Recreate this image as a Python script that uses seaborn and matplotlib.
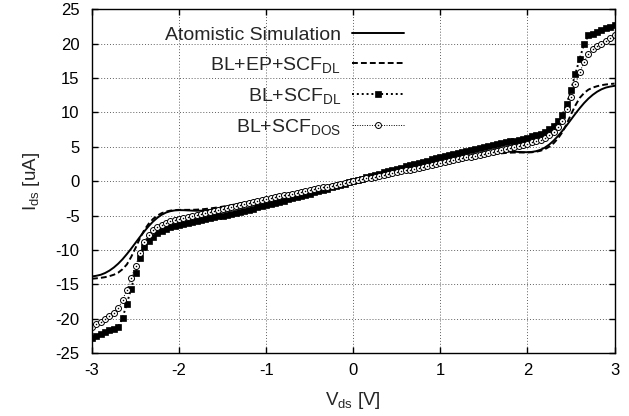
import numpy as np
import pandas as pd
import matplotlib
matplotlib.use('Agg')
import matplotlib.pyplot as plt
from matplotlib.lines import Line2D
from matplotlib.legend_handler import HandlerTuple
import seaborn as sns

# drain voltage grid, 0.05 V steps from -3 V to 3 V
v_ds = np.round(np.linspace(-3, 3, 121), 2)

# Atomistic Simulation (solid)
i_atomistic = [
    -13.85, -13.75, -13.60, -13.35, -13.00, -12.55, -12.00, -11.35, -10.60, -9.80,
    -8.95, -8.10, -7.30, -6.55, -5.88, -5.32, -4.88, -4.56, -4.36, -4.25,
    -4.21, -4.22, -4.25, -4.28, -4.30, -4.29, -4.25, -4.18, -4.09, -3.98,
    -3.86, -3.74, -3.61, -3.48, -3.35, -3.22, -3.09, -2.96, -2.83, -2.70,
    -2.57, -2.44, -2.31, -2.18, -2.05, -1.92, -1.79, -1.66, -1.53, -1.40,
    -1.28, -1.15, -1.02, -0.89, -0.77, -0.64, -0.51, -0.38, -0.26, -0.13,
    0.00,
    0.13, 0.26, 0.38, 0.51, 0.64, 0.77, 0.89, 1.02, 1.15, 1.28,
    1.40, 1.53, 1.66, 1.79, 1.92, 2.05, 2.18, 2.31, 2.44, 2.57,
    2.70, 2.83, 2.96, 3.09, 3.22, 3.35, 3.48, 3.61, 3.74, 3.86,
    3.98, 4.09, 4.18, 4.25, 4.29, 4.30, 4.28, 4.25, 4.22, 4.21,
    4.25, 4.36, 4.56, 4.88, 5.32, 5.88, 6.55, 7.30, 8.10, 8.95,
    9.80, 10.60, 11.35, 12.00, 12.55, 13.00, 13.35, 13.60, 13.75, 13.85,
]

# BL+EP+SCF_DL (dashed)
i_ep_dl = [
    -14.18, -14.12, -14.05, -13.95, -13.80, -13.60, -13.30, -12.80, -12.10, -11.00,
    -9.70, -8.30, -7.10, -6.20, -5.50, -5.00, -4.65, -4.42, -4.28, -4.20,
    -4.17, -4.17, -4.17, -4.16, -4.14, -4.10, -4.04, -3.97, -3.89, -3.80,
    -3.70, -3.59, -3.48, -3.36, -3.24, -3.12, -3.00, -2.875, -2.75, -2.625,
    -2.50, -2.375, -2.25, -2.125, -2.00, -1.875, -1.75, -1.625, -1.50, -1.375,
    -1.25, -1.125, -1.00, -0.875, -0.75, -0.625, -0.50, -0.375, -0.25, -0.125,
    0.00,
    0.125, 0.25, 0.375, 0.50, 0.625, 0.75, 0.875, 1.00, 1.125, 1.25,
    1.375, 1.50, 1.625, 1.75, 1.875, 2.00, 2.125, 2.25, 2.375, 2.50,
    2.625, 2.75, 2.875, 3.00, 3.12, 3.24, 3.36, 3.48, 3.59, 3.70,
    3.80, 3.89, 3.97, 4.04, 4.10, 4.14, 4.16, 4.17, 4.17, 4.17,
    4.20, 4.28, 4.42, 4.65, 5.00, 5.50, 6.20, 7.10, 8.30, 9.70,
    11.00, 12.10, 12.80, 13.30, 13.60, 13.80, 13.95, 14.05, 14.12, 14.18,
]

# BL+SCF_DL (filled squares)
i_scf_dl = [
    -22.75, -22.45, -22.20, -21.95, -21.70, -21.45, -21.20, -19.90, -17.80, -15.60,
    -13.30, -11.20, -9.60, -8.70, -8.05, -7.55, -7.18, -6.92, -6.70, -6.50,
    -6.33, -6.18, -6.04, -5.90, -5.77, -5.64, -5.51, -5.38, -5.25, -5.12,
    -4.99, -4.85, -4.71, -4.57, -4.43, -4.28, -4.13, -3.98, -3.82, -3.66,
    -3.50, -3.33, -3.16, -2.99, -2.82, -2.65, -2.48, -2.31, -2.14, -1.97,
    -1.80, -1.62, -1.44, -1.26, -1.08, -0.90, -0.72, -0.54, -0.36, -0.18,
    0.00,
    0.18, 0.36, 0.54, 0.72, 0.90, 1.08, 1.26, 1.44, 1.62, 1.80,
    1.97, 2.14, 2.31, 2.48, 2.65, 2.82, 2.99, 3.16, 3.33, 3.50,
    3.66, 3.82, 3.98, 4.13, 4.28, 4.43, 4.57, 4.71, 4.85, 4.99,
    5.12, 5.25, 5.38, 5.51, 5.64, 5.77, 5.90, 6.04, 6.18, 6.33,
    6.50, 6.70, 6.92, 7.18, 7.55, 8.05, 8.70, 9.60, 11.20, 13.30,
    15.60, 17.80, 19.90, 21.20, 21.45, 21.70, 21.95, 22.20, 22.45, 22.75,
]

# BL+SCF_DOS (open circles)
i_scf_dos = [
    -21.20, -20.80, -20.40, -20.00, -19.60, -19.20, -18.50, -17.30, -15.80, -14.10,
    -12.30, -10.50, -8.80, -7.80, -7.10, -6.65, -6.30, -6.03, -5.82, -5.63,
    -5.46, -5.30, -5.15, -5.00, -4.85, -4.70, -4.56, -4.42, -4.28, -4.14,
    -4.00, -3.86, -3.72, -3.58, -3.44, -3.30, -3.16, -3.02, -2.88, -2.74,
    -2.60, -2.47, -2.34, -2.21, -2.08, -1.95, -1.82, -1.69, -1.56, -1.43,
    -1.30, -1.17, -1.04, -0.91, -0.78, -0.65, -0.52, -0.39, -0.26, -0.13,
    0.00,
    0.13, 0.26, 0.39, 0.52, 0.65, 0.78, 0.91, 1.04, 1.17, 1.30,
    1.43, 1.56, 1.69, 1.82, 1.95, 2.08, 2.21, 2.34, 2.47, 2.60,
    2.74, 2.88, 3.02, 3.16, 3.30, 3.44, 3.58, 3.72, 3.86, 4.00,
    4.14, 4.28, 4.42, 4.56, 4.70, 4.85, 5.00, 5.15, 5.30, 5.46,
    5.63, 5.82, 6.03, 6.30, 6.65, 7.10, 7.80, 8.80, 10.50, 12.30,
    14.10, 15.80, 17.30, 18.50, 19.20, 19.60, 20.00, 20.40, 20.80, 21.20,
]

df = pd.DataFrame({'vds': v_ds, 'atom': i_atomistic, 'ep_dl': i_ep_dl,
                   'scf_dl': i_scf_dl, 'scf_dos': i_scf_dos})

sns.set_style('ticks')
plt.rcParams['font.family'] = ['Liberation Sans', 'DejaVu Sans']
plt.rcParams['mathtext.fontset'] = 'custom'
plt.rcParams['mathtext.rm'] = 'Liberation Sans'
plt.rcParams['mathtext.it'] = 'Liberation Sans:italic'
plt.rcParams['axes.unicode_minus'] = False

fig, ax = plt.subplots(figsize=(6.29, 4.16), dpi=100)
fig.subplots_adjust(left=0.1463, right=0.977, bottom=0.151, top=0.978)

sns.lineplot(data=df, x='vds', y='atom', ax=ax, color='black', lw=1.4,
             label='Atomistic Simulation')
sns.lineplot(data=df, x='vds', y='ep_dl', ax=ax, color='black', lw=1.4,
             linestyle=(0, (3, 1.6)), label=r'BL+EP+SCF$_{\rm DL}$')
sns.lineplot(data=df, x='vds', y='scf_dl', ax=ax, color='black', lw=1.4,
             linestyle=(0, (1, 1.5)), marker='s', markersize=5,
             markeredgecolor='black', markerfacecolor='black', markeredgewidth=0.5,
             label=r'BL+SCF$_{\rm DL}$')
sns.lineplot(data=df, x='vds', y='scf_dos', ax=ax, color='black', lw=0.7,
             linestyle=(0, (1, 1.5)), marker='o', markersize=4.3,
             markeredgecolor='black', markerfacecolor='white', markeredgewidth=0.7,
             label=r'BL+SCF$_{\rm DOS}$')
# centre dots of the open circles
sns.lineplot(data=df, x='vds', y='scf_dos', ax=ax, color='black',
             linestyle='none', marker='o', markersize=1.1,
             markeredgecolor='black', markeredgewidth=0, legend=False)

ax.set_xlim(-3, 3)
ax.set_ylim(-25, 25)
ax.set_xticks(np.arange(-3, 4, 1))
ax.set_yticks(np.arange(-25, 30, 5))
ax.grid(True, linestyle=(0, (1, 2)), color='#606060', linewidth=0.7)
ax.tick_params(direction='in', top=True, right=True, length=4, width=1,
               labelsize=12, colors='black')
ax.tick_params(axis='x', pad=7)
ax.tick_params(axis='y', pad=9)
for s in ax.spines.values():
    s.set_color('black')
    s.set_linewidth(1.0)

ax.set_xlabel(r'V$_{\rm ds}$ [V]', fontsize=13.5, labelpad=9)
ax.set_ylabel(r'I$_{\rm ds}$ [uA]', fontsize=13.5, labelpad=10)

handles, labels = ax.get_legend_handles_labels()
dot = Line2D([], [], color='black', linestyle='none', marker='o',
             markersize=1.1, markeredgewidth=0)
handles[3] = (handles[3], dot)
ax.legend(handles, labels, loc='upper right', bbox_to_anchor=(0.598, 0.950),
          frameon=False, markerfirst=False, handlelength=2.7, handletextpad=0.55,
          labelspacing=0.56, borderaxespad=0, borderpad=0, fontsize=14,
          handler_map={tuple: HandlerTuple(ndivide=1)})

fig.savefig('out.png', dpi=100)
